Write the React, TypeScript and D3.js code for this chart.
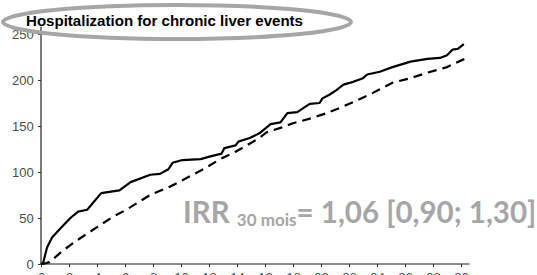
import { useEffect, useRef } from "react";
import * as d3 from "d3";

// months of follow-up / cumulative events
const solidT = [0, 0.15, 0.43, 0.8, 1.6, 2.1, 2.65, 3.3, 4.3, 5.6, 6.4, 7.8, 8.5, 9.1, 9.4, 10.1, 11.4, 12.1, 12.9, 13.1, 13.9, 14.1, 14.9, 15.6, 16.4, 17.1, 17.6, 18.3, 19.2, 19.9, 20.1, 20.6, 21.1, 21.6, 22.3, 23, 23.3, 24.2, 25.1, 26.4, 27.6, 28.5, 29, 29.4, 29.8, 30.2];
const solidV = [0, 1, 18, 29, 42, 50, 57, 59, 77, 80, 89, 97, 98, 103, 110, 113, 114, 117, 120, 126, 129, 133, 137, 142, 152, 154, 164, 165, 174, 175, 180, 184, 189, 195, 198, 202, 206, 209, 214, 220, 223, 224, 227, 233, 234, 239];
const dashT = [0, 0.15, 0.6, 1.6, 2.6, 4, 5.1, 6.1, 7.8, 9.2, 10.6, 11.7, 12.8, 13.9, 14.7, 15.6, 16.1, 17.1, 18, 19.2, 20.4, 21.4, 22.6, 23.7, 25.1, 26.4, 27.6, 29, 30.4];
const dashV = [0, 0, 2, 15, 26, 40, 51, 59, 75, 84, 95, 104, 114, 122, 129, 137, 143, 148, 153, 158, 164, 170, 178, 186, 197, 202, 208, 214, 224];

const xTicks = d3.range(0, 31, 2);
const yTicks = [0, 50, 100, 150, 200, 250];
const title = "Hospitalization for chronic liver events";

export default function App() {
  const ref = useRef<SVGSVGElement>(null);

  useEffect(() => {
    const svg = d3.select(ref.current);
    svg.selectAll("*").remove();

    const x = d3.scaleLinear().domain([0, 30]).range([41, 461]);
    const y = d3.scaleLinear().domain([0, 250]).range([264, 34]);

    const g = svg.append("g");

    // axes
    const xAxis = g.append("g")
      .attr("transform", `translate(0,${y(0)})`)
      .call(d3.axisBottom(x).tickValues(xTicks).tickSize(3).tickSizeOuter(0));
    xAxis.select(".domain").remove();
    xAxis.selectAll("text").attr("fill", "#4d4d4d").attr("font-size", 13).attr("dy", "0.9em");
    xAxis.selectAll("line").attr("stroke", "#333");

    const yAxis = g.append("g")
      .attr("transform", `translate(${x(0)},0)`)
      .call(d3.axisLeft(y).tickValues(yTicks).tickSize(3).tickSizeOuter(0));
    yAxis.select(".domain").remove();
    yAxis.selectAll("text").attr("fill", "#4d4d4d").attr("font-size", 13).attr("dx", "-0.1em");
    yAxis.selectAll("line").attr("stroke", "#333");
    svg.selectAll(".tick text").attr("font-family", "Liberation Sans, Arial, sans-serif");

    g.append("line")
      .attr("x1", x(0)).attr("x2", x(30.6))
      .attr("y1", y(0)).attr("y2", y(0))
      .attr("stroke", "#222").attr("stroke-width", 1.2);
    g.append("line")
      .attr("x1", x(0)).attr("x2", x(0))
      .attr("y1", y(0)).attr("y2", y(258))
      .attr("stroke", "#222").attr("stroke-width", 1.2);

    const line = d3.line<[number, number]>().x(d => x(d[0])).y(d => y(d[1]));
    const solid = solidT.map((t, i) => [t, solidV[i]] as [number, number]);
    const dashed = dashT.map((t, i) => [t, dashV[i]] as [number, number]);

    g.append("path").attr("d", line(dashed)).attr("fill", "none")
      .attr("stroke", "#000").attr("stroke-width", 2.2).attr("stroke-dasharray", "9,6");
    g.append("path").attr("d", line(solid)).attr("fill", "none")
      .attr("stroke", "#000").attr("stroke-width", 2.2).attr("stroke-linejoin", "round");

    // title with highlight ellipse
    svg.append("text").attr("x", 26).attr("y", 26)
      .attr("font-family", "Liberation Sans, Arial, sans-serif")
      .attr("font-weight", "bold").attr("font-size", 15.5).attr("fill", "#000")
      .attr("textLength", 277).attr("lengthAdjust", "spacingAndGlyphs")
      .text(title);
    svg.append("ellipse").attr("cx", 177).attr("cy", 22).attr("rx", 174).attr("ry", 17)
      .attr("fill", "none").attr("stroke", "#a6a6a6").attr("stroke-width", 4);

    // annotation
    const irr = svg.append("text").attr("x", 183).attr("y", 223)
      .attr("font-family", "Lato, Open Sans, sans-serif").attr("font-weight", "bold")
      .attr("fill", "#a6a6a6").attr("font-size", 29.5);
    irr.append("tspan").text("IRR ");
    irr.append("tspan").attr("font-size", 17).attr("dy", 3).text("30 mois");
    irr.append("tspan").attr("dy", -3).text("= 1,06 [0,90; 1,30]");
  }, []);

  return <svg ref={ref} width={537} height={275} style={{ position: "absolute", left: 0, top: 0 }} />;
}
